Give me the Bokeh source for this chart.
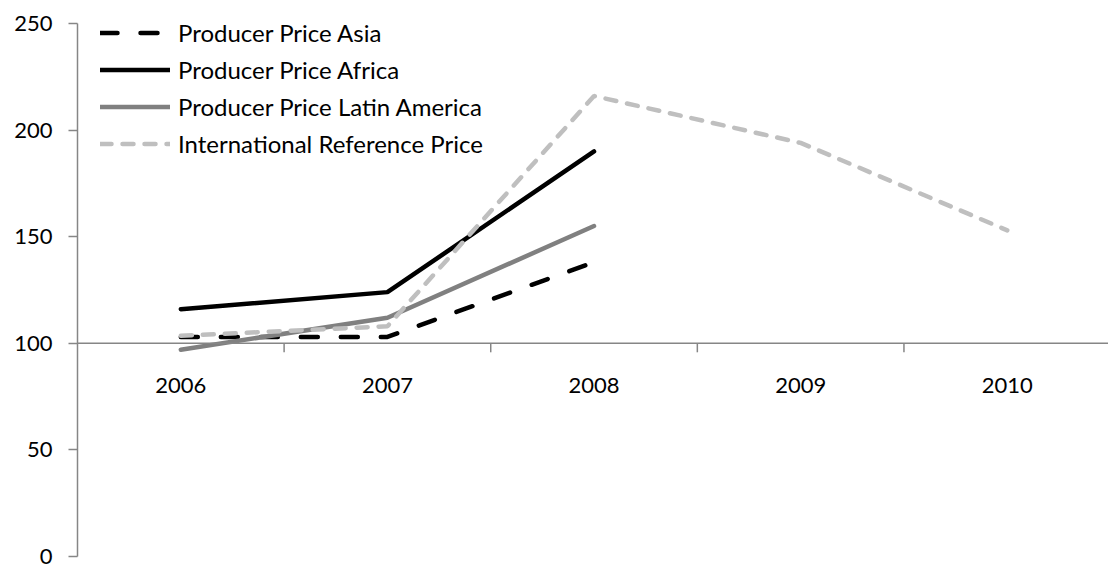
import math
from bokeh.plotting import figure
from bokeh.models import Range1d, Span, Legend, LegendItem, FixedTicker
from bokeh.core.properties import value
from bokeh.embed import file_html
from bokeh.resources import INLINE

years = ["2006", "2007", "2008", "2009", "2010"]
asia = [103, 103, 138, float("nan"), float("nan")]
africa = [116, 124, 190, float("nan"), float("nan")]
latin = [97, 112, 155, float("nan"), float("nan")]
intl = [103.5, 108, 216, 194, 153]
y_ticks = [0, 50, 100, 150, 200, 250]

FONT = "Lato"
FS_NUM = "22px"
FS_LEG = "24px"
AXIS_COL = "#868686"

xs = list(range(1, len(years) + 1))

p = figure(width=1108, height=564, output_backend="svg", toolbar_location=None,
           x_range=Range1d(0.5, 5.49), y_range=Range1d(0, 250),
           x_axis_location=None, min_border_left=77, min_border_top=23,
           min_border_bottom=8, min_border_right=0)
p.outline_line_color = None
p.xgrid.visible = False
p.ygrid.visible = False

yax = p.yaxis[0]
yax.ticker = FixedTicker(ticks=y_ticks)
yax.axis_line_color = AXIS_COL
yax.axis_line_width = 1.5
yax.major_tick_line_color = AXIS_COL
yax.major_tick_line_width = 1.5
yax.major_tick_out = 9
yax.major_tick_in = 0
yax.minor_tick_line_color = None
yax.major_label_standoff = 16
yax.major_label_text_font = FONT
yax.major_label_text_font_size = FS_NUM
yax.major_label_text_color = "#000000"

# horizontal category axis crossing at 100
p.add_layout(Span(location=100, dimension="width", line_color=AXIS_COL, line_width=1.5))
bounds = [x + 0.5 for x in xs[:-1]]
p.ray(x=bounds, y=[100] * len(bounds), length=9, length_units="screen",
      angle=-math.pi / 2, line_color=AXIS_COL, line_width=1.5)
p.text(x=xs, y=[100] * len(xs), text=years, y_offset=42,
       text_font=value(FONT), text_font_size=FS_NUM, text_align="center",
       text_baseline="middle", text_color="#000000")

r_asia = p.line(xs, asia, line_color="#000000", line_width=4.5, line_dash="17 23", line_cap="round")
r_africa = p.line(xs, africa, line_color="#000000", line_width=4.5, line_cap="round")
r_latin = p.line(xs, latin, line_color="#808080", line_width=4.5, line_cap="round")
r_intl = p.line(xs, intl, line_color="#BFBFBF", line_width=4.5, line_dash="11 11", line_cap="round")

legend = Legend(items=[
    LegendItem(label="Producer Price Asia", renderers=[r_asia]),
    LegendItem(label="Producer Price Africa", renderers=[r_africa]),
    LegendItem(label="Producer Price Latin America", renderers=[r_latin]),
    LegendItem(label="International Reference Price", renderers=[r_intl]),
], location=(23, 394), padding=0, margin=0, spacing=0,
    glyph_width=70, glyph_height=37, label_height=37, label_standoff=8,
    label_text_font=FONT, label_text_font_size=FS_LEG, label_text_color="#000000",
    border_line_alpha=0, background_fill_alpha=0)
p.add_layout(legend)

open("out.html", "w").write(file_html(p, INLINE))
